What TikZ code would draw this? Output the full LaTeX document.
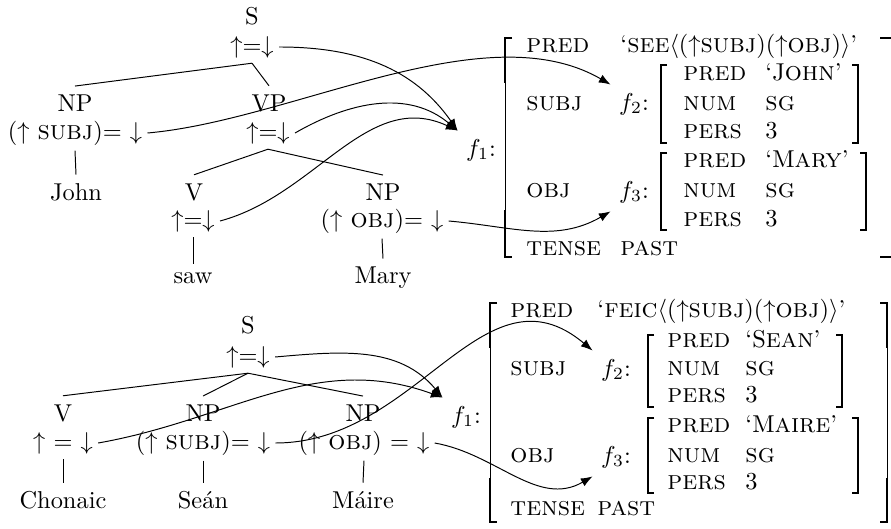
\documentclass[tikz,border=0pt]{standalone}
\usepackage{fontspec}
\usetikzlibrary{arrows.meta}
\newcommand\fsc[1]{{\fontsize{11}{13}\selectfont\addfontfeatures{LetterSpace=6}\textsc{#1}}}
\tikzset{
>={Latex},
thin,
ann/.style={inner sep=2pt},
attr/.style={anchor=base west, inner sep=0pt},
brk/.style={line width=0.55pt},
link/.style={->},
}

\begin{document}
\begin{tikzpicture}
    [x=0.41pt,y=-0.41pt]
    \useasboundingbox (0,0) rectangle (891,529);

    %upper tree
    \node (S1) at (252,16) {S};
    \node[ann] (S1a) at (252,47) {$\uparrow$=$\downarrow$};
    \node (NP1) at (75,103) {NP};
    \node[ann] (NP1a) at (75,133) {$(\uparrow$ \fsc{subj})= $\downarrow$};
    \node (John) at (76,192) {John};
    \node (VP1) at (269,103) {VP};
    \node[ann] (VP1a) at (268,133) {$\uparrow$=$\downarrow$};
    \node (V1) at (194,192) {V};
    \node[ann] (V1a) at (193,221) {$\uparrow$=$\downarrow$};
    \node (saw) at (193,278) {saw};
    \node (NPo1) at (383,192) {NP};
    \node[ann] (NPo1a) at (382,221) {$(\uparrow$ \fsc{obj})= $\downarrow$};
    \node (Mary) at (383,278) {Mary};

    \draw[-] (S1a.south) to (NP1.north);
    \draw[-] (S1a.south) to (VP1.north);
    \draw[-] (NP1a.south) to (John.north);
    \draw[-] (VP1a.south) to (V1.north);
    \draw[-] (VP1a.south) to (NPo1.north);
    \draw[-] (V1a.south) to (saw.north);
    \draw[-] (NPo1a.south) to (Mary.north);

    %upper f-structure
    \node (f1a) at (481,150) {$f_1$:};
    \draw[brk] (512,38) -| (505,83);
    \draw (505,83) -- (505,210);
    \draw[brk] (505,210) |- (512,257);
    \draw[brk] (880,38) -| (892.5,83);
    \draw (892.5,83) -- (892.5,210);
    \draw[brk] (892.5,210) |- (880,257);

    \node[attr] (predA) at (526,53) {\fsc{pred}};
    \node[attr] (predvA) at (620,53) {`\fsc{see}$\langle(\uparrow$\fsc{subj}$)(\uparrow$\fsc{obj}$)\rangle$'};
    \node[attr] (subjA) at (526,111) {\fsc{subj}};
    \node (f2a) at (634,104) {$f_2$:};
    \draw[brk] (667,65) -| (661,143) -- (667,143);
    \draw[brk] (852,65) -| (858,143) -- (852,143);
    \node[attr] (pred2A) at (683,81) {\fsc{pred}};
    \node[attr] (predv2A) at (765,81) {`J\fsc{ohn}'};
    \node[attr] (num2A) at (683,111) {\fsc{num}};
    \node[attr] (numv2A) at (765,111) {\fsc{sg}};
    \node[attr] (pers2A) at (683,139) {\fsc{pers}};
    \node[attr] (persv2A) at (765,139) {3};

    \node[attr] (objA) at (526,198) {\fsc{obj}};
    \node (f3a) at (634,192) {$f_3$:};
    \draw[brk] (667,153) -| (661,230) -- (667,230);
    \draw[brk] (860,153) -| (866,230) -- (860,230);
    \node[attr] (pred3A) at (683,168) {\fsc{pred}};
    \node[attr] (predv3A) at (765,168) {`M\fsc{ary}'};
    \node[attr] (num3A) at (683,198) {\fsc{num}};
    \node[attr] (numv3A) at (765,198) {\fsc{sg}};
    \node[attr] (pers3A) at (683,227) {\fsc{pers}};
    \node[attr] (persv3A) at (765,227) {3};

    \node[attr] (tenseA) at (526,256) {\fsc{tense}};
    \node[attr] (tensevA) at (620,256) {\fsc{past}};

    \draw[link] (S1a.east) to[out=0,in=125] (f1a.north west);
    \draw[link] (VP1a.east) to[out=30,in=140] (f1a.north west);
    \draw[link] (V1a.east) to[out=15,in=155] (f1a.north west);
    \draw[link] (NP1a.east) to[out=5,in=150,looseness=0.8] (f2a.north west);
    \draw[link] (NPo1a.east) to[out=-5,in=210] (f3a.south west);

    %lower tree
    \node (S2) at (248,325) {S};
    \node[ann] (S2a) at (248,357) {$\uparrow$=$\downarrow$};
    \node (V2) at (63,413) {V};
    \node[ann] (V2a) at (63,443) {$\uparrow$ = $\downarrow$};
    \node (Chonaic) at (63,500) {Chonaic};
    \node (NPs2) at (203,413) {NP};
    \node[ann] (NPs2a) at (203,443) {$(\uparrow$ \fsc{subj})= $\downarrow$};
    \node (Sean) at (203,500) {Se\'an};
    \node (NPo2) at (363,413) {NP};
    \node[ann] (NPo2a) at (364,443) {$(\uparrow$ \fsc{obj}) = $\downarrow$};
    \node (Maire) at (363,500) {M\'aire};

    \draw[-] (S2a.south) to (V2.north);
    \draw[-] (S2a.south) to (NPs2.north);
    \draw[-] (S2a.south) to (NPo2.north);
    \draw[-] (V2a.south) to (Chonaic.north);
    \draw[-] (NPs2a.south) to (Sean.north);
    \draw[-] (NPo2a.south) to (Maire.north);

    %lower f-structure
    \node (f1b) at (466,417) {$f_1$:};
    \draw[brk] (497,303) -| (490,348);
    \draw (490,348) -- (490,478);
    \draw[brk] (490,478) |- (497,522);
    \draw[brk] (880,303) -| (887,348);
    \draw (887,348) -- (887,478);
    \draw[brk] (887,478) |- (880,522);

    \node[attr] (predB) at (510,318) {\fsc{pred}};
    \node[attr] (predvB) at (597,318) {`\fsc{feic}$\langle(\uparrow$\fsc{subj}$)(\uparrow$\fsc{obj}$)\rangle$'};
    \node[attr] (subjB) at (510,376) {\fsc{subj}};
    \node (f2b) at (616,370) {$f_2$:};
    \draw[brk] (654,335) -| (648,407) -- (654,407);
    \draw[brk] (836,335) -| (842,407) -- (836,407);
    \node[attr] (pred2B) at (667,348) {\fsc{pred}};
    \node[attr] (predv2B) at (745,348) {`S\fsc{ean}'};
    \node[attr] (num2B) at (667,376) {\fsc{num}};
    \node[attr] (numv2B) at (745,376) {\fsc{sg}};
    \node[attr] (pers2B) at (667,403) {\fsc{pers}};
    \node[attr] (persv2B) at (745,403) {3};

    \node[attr] (objB) at (510,463) {\fsc{obj}};
    \node (f3b) at (616,457) {$f_3$:};
    \draw[brk] (654,418) -| (648,493) -- (654,493);
    \draw[brk] (852,418) -| (858,493) -- (852,493);
    \node[attr] (pred3B) at (667,433) {\fsc{pred}};
    \node[attr] (predv3B) at (745,433) {`M\fsc{aire}'};
    \node[attr] (num3B) at (667,463) {\fsc{num}};
    \node[attr] (numv3B) at (745,463) {\fsc{sg}};
    \node[attr] (pers3B) at (667,490) {\fsc{pers}};
    \node[attr] (persv3B) at (745,490) {3};

    \node[attr] (tenseB) at (510,516) {\fsc{tense}};
    \node[attr] (tensevB) at (597,516) {\fsc{past}};

    \draw[link] (S2a.east) to[out=5,in=130] (f1b.north west);
    \draw[link] (V2a.east) to[out=10,in=160] (f1b.north west);
    \draw[link] (NPs2a.east) to[out=0,in=140,looseness=1.1] (f2b.north west);
    \draw[link] (NPo2a.east) to[out=-10,in=210] (f3b.south west);

\end{tikzpicture}
\end{document}
